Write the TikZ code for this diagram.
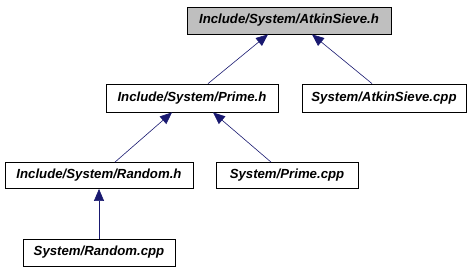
\documentclass[tikz,border=0pt]{standalone}
\usepackage{fontspec}
\setmainfont{Liberation Sans}
\usetikzlibrary{arrows.meta}
\definecolor{edgeblue}{HTML}{191970}
\definecolor{rootgray}{HTML}{BFBFBF}
\begin{document}
\begin{tikzpicture}[x=1pt,y=-1pt,
  filebox/.style={draw=black,line width=0.8pt,fill=white,inner sep=0pt,
    font=\fontsize{13.2}{15}\selectfont\bfseries\itshape},
  rootbox/.style={filebox,fill=rootgray},
  dep/.style={draw=edgeblue,line width=0.6pt,
    -{Triangle[length=12pt,width=10pt,fill=edgeblue]}}]
\useasboundingbox (0,0) rectangle (476,272);
% header files and sources, one box each (centres and sizes in px)
\node[rootbox,minimum width=204pt,minimum height=27pt] (atkinh) at (289,20.5) {Include/System/AtkinSieve.h};
\node[filebox,minimum width=172pt,minimum height=28pt] (primeh) at (192,98) {Include/System/Prime.h};
\node[filebox,minimum width=164pt,minimum height=28pt] (atkincpp) at (384,98) {System/AtkinSieve.cpp};
\node[filebox,minimum width=188pt,minimum height=26pt] (randomh) at (99,175.5) {Include/System/Random.h};
\node[filebox,minimum width=142pt,minimum height=26pt] (primecpp) at (287,175.5) {System/Prime.cpp};
\node[filebox,minimum width=152pt,minimum height=27pt] (randomcpp) at (99,252.5) {System/Random.cpp};
% include dependencies
\draw[dep] (primeh.north -| 208,0) -- (atkinh.south -| 268,0);
\draw[dep] (atkincpp.north -| 372,0) -- (atkinh.south -| 312,0);
\draw[dep] (randomh.north -| 115,0) -- (primeh.south -| 172,0);
\draw[dep] (primecpp.north -| 271,0) -- (primeh.south -| 213,0);
\draw[dep] (randomcpp.north) -- (randomh.south);
\end{tikzpicture}
\end{document}
